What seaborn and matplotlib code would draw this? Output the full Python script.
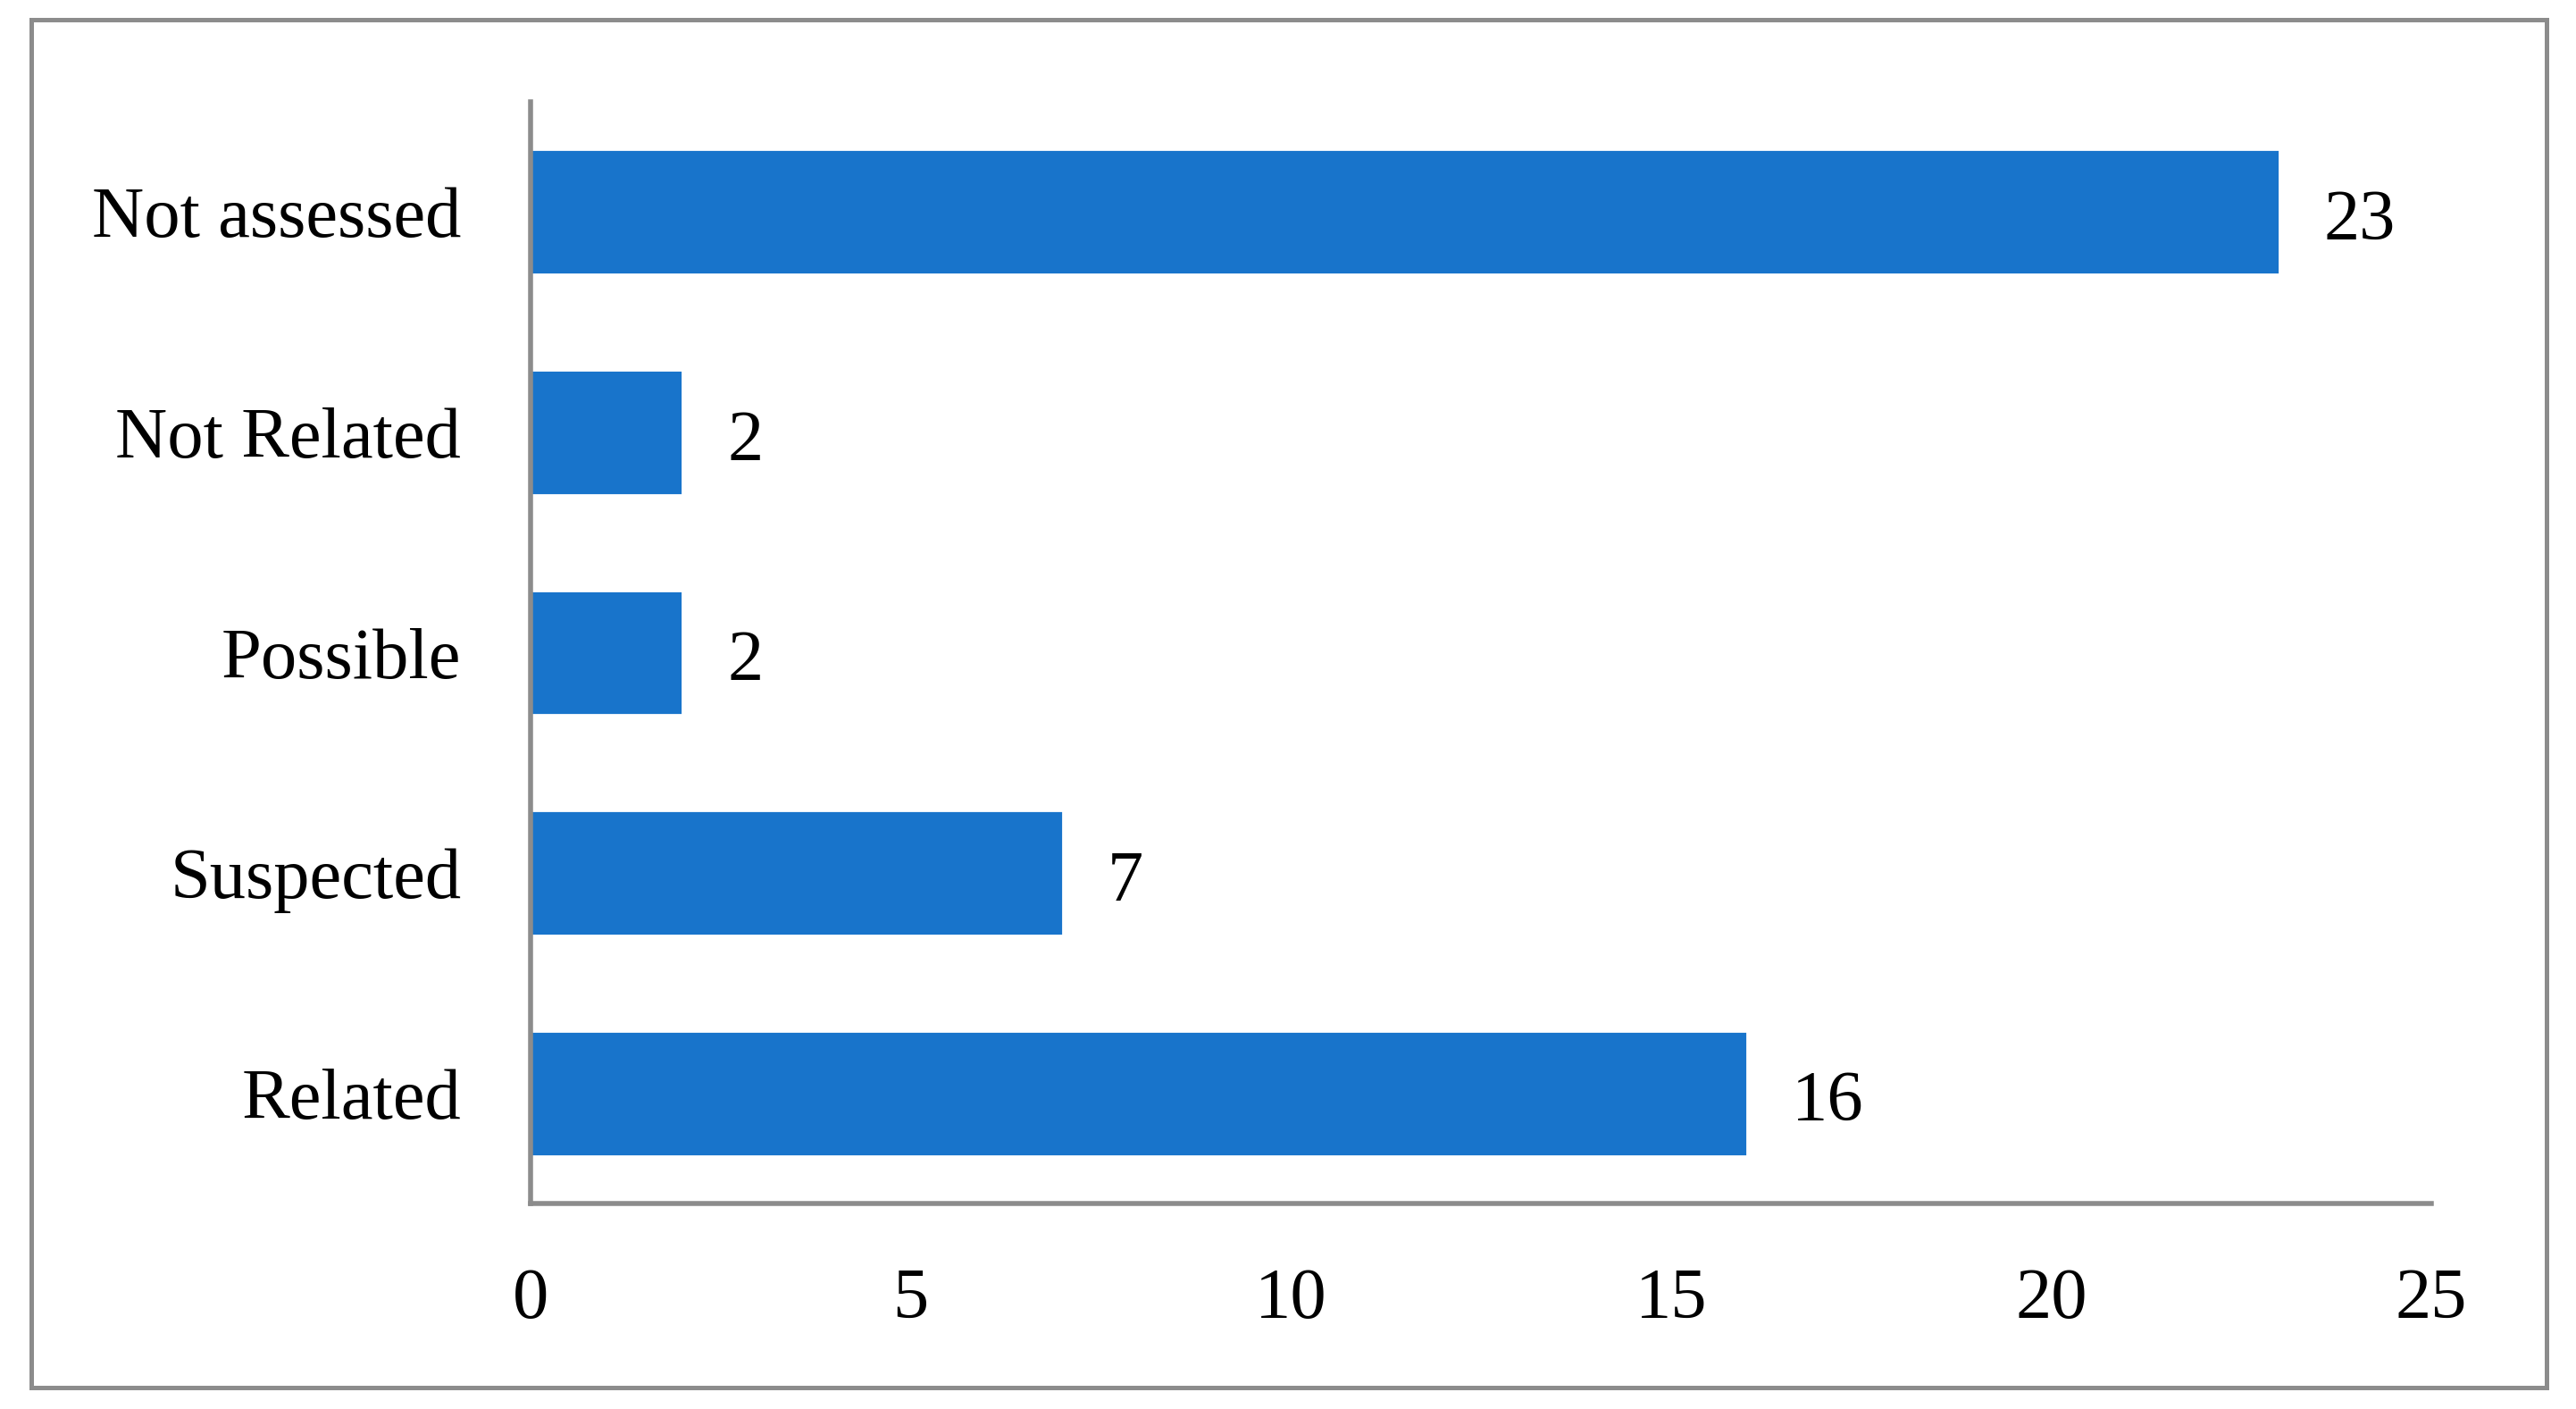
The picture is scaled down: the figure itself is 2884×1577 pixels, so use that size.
import numpy as np
import pandas as pd
import seaborn as sns
import matplotlib.pyplot as plt
from matplotlib.patches import Rectangle

# -----------------------------------------
# Data
# -----------------------------------------
categories = ["Not assessed", "Not Related", "Possible", "Suspected", "Related"]
counts = [23, 2, 2, 7, 16]
x_ticks = [0, 5, 10, 15, 20, 25]

BAR_COLOR = "#1874CB"
LINE_GRAY = "#8c8c8c"

df = pd.DataFrame({"category": categories, "count": counts})

# -----------------------------------------
# Style
# -----------------------------------------
sns.set_style("white")
plt.rcParams["font.family"] = ["Liberation Serif", "DejaVu Serif"]

fig = plt.figure(figsize=(14.42, 7.885), dpi=200)
ax = fig.add_axes([0.206, 0.1458, 0.9438 - 0.206, 0.9277 - 0.1458])

sns.barplot(data=df, x="count", y="category", order=categories,
            color=BAR_COLOR, saturation=1, width=0.567, ax=ax)

ax.set_xlim(0, 25)
ax.set_ylim(4.5, -0.5)
ax.set_xticks(x_ticks)
ax.set_xlabel("")
ax.set_ylabel("")

ax.tick_params(axis="x", length=0, pad=26, labelsize=29, colors="black")
ax.tick_params(axis="y", length=0, pad=28, labelsize=29, colors="black")

for side in ["top", "right"]:
    ax.spines[side].set_visible(False)
for side in ["left", "bottom"]:
    ax.spines[side].set_color(LINE_GRAY)
    ax.spines[side].set_linewidth(2.0)

# value labels, nudged slightly below the bar centre like the original
for cont in ax.containers:
    for ann in ax.bar_label(cont, padding=18, fontsize=29, color="black"):
        ann.xyann = (18, -4)

# outer frame around the whole chart
frame = Rectangle((0.0121, 0.0155), 0.9886 - 0.0121, 0.986 - 0.0155,
                  transform=fig.transFigure, fill=False,
                  edgecolor=LINE_GRAY, linewidth=1.8)
fig.patches.append(frame)

fig.savefig("out.png", dpi=200, facecolor="white")
plt.close(fig)
